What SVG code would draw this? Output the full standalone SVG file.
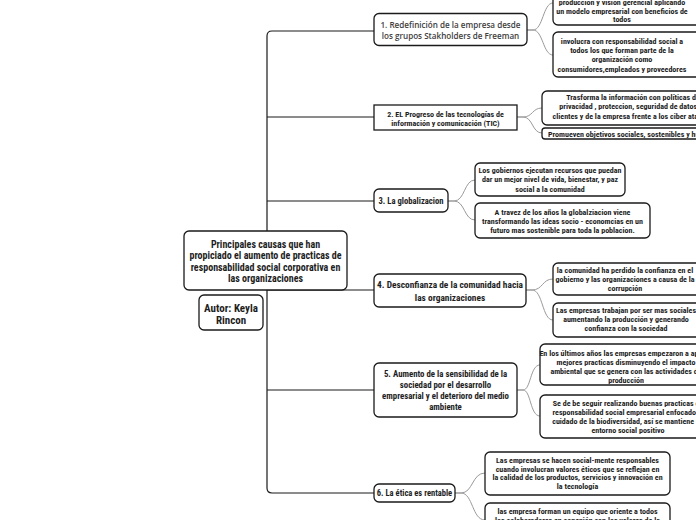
<svg xmlns="http://www.w3.org/2000/svg" width="696" height="520" viewBox="0 0 696 520">
<style>
.bg{fill:#ffffff}
.box{fill:#ffffff;stroke:#1a1a1a;stroke-width:1.3}
.trunk{fill:none;stroke:#1a1a1a;stroke-width:1.2}
.sub{fill:none;stroke:#9a9a9a;stroke-width:1}
.n{font-family:"Liberation Sans Narrow","Arial Narrow","Roboto Condensed","Liberation Sans",sans-serif;font-weight:bold;fill:#1e1e1e;text-anchor:middle}
.s8{font-size:8px}
.s10{font-size:10px}
.o{font-family:"Open Sans","DejaVu Sans",sans-serif;font-weight:600;font-size:8.1px;fill:#404040;text-anchor:middle}
</style>
<rect class="bg" x="0" y="0" width="696" height="520"/>
<g id="connectors">
<path class="trunk" d="M374 31 H272 Q267 31 267 36 V488 Q267 493 272 493 H374"/>
<path class="trunk" d="M267 117 H374"/>
<path class="trunk" d="M267 201 H374"/>
<path class="trunk" d="M267 290 H374"/>
<path class="trunk" d="M267 390 H374"/>
<path class="sub" d="M527 30 h6 C543 30 543 3 553 3"/>
<path class="sub" d="M527 30 h6 C543 30 543 55 553 55"/>
<path class="sub" d="M517 117 h6 C533 117 532 108 542 108"/>
<path class="sub" d="M517 117 h6 C533 117 532 133 542 133"/>
<path class="sub" d="M448 201 h6 C465 201 464 180 475 180"/>
<path class="sub" d="M448 201 h6 C465 201 464 220 475 220"/>
<path class="sub" d="M526 290 h6 C543 290 542 279 553 279"/>
<path class="sub" d="M526 290 h6 C543 290 542 320 553 320"/>
<path class="sub" d="M517 390 h6 C531 390 530 365 540 365"/>
<path class="sub" d="M517 390 h6 C531 390 530 416 540 416"/>
<path class="sub" d="M455 493 h6 C473 493 472 473 485 473"/>
<path class="sub" d="M455 493 h6 C473 493 472 520 485 520"/>
</g>
<g id="root">
<rect class="box" x="184" y="231" width="163" height="59" rx="5"/>
<text class="n s10" x="265.5" y="247.5">Principales causas  que han</text>
<text class="n s10" x="265.5" y="259">propiciado el aumento de practicas de</text>
<text class="n s10" x="265.5" y="270.5">responsabilidad social corporativa en</text>
<text class="n s10" x="265.5" y="282">las organizaciones</text>
</g>
<g id="autor">
<rect class="box" x="199" y="295" width="64" height="35" rx="5"/>
<text class="n" style="font-size:11px" x="231" y="312">Autor: Keyla</text>
<text class="n" style="font-size:11px" x="231" y="323.5">Rincon</text>
</g>
<g id="n1">
<rect class="box" x="374" y="13.5" width="153" height="32" rx="5"/>
<text class="o" x="450.5" y="28">1. Redefinición de la empresa desde</text>
<text class="o" x="450.5" y="38.5">los grupos Stakholders de Freeman</text>
</g>
<g id="n1a">
<rect class="box" x="553" y="-20" width="150" height="45" rx="5"/>
<text class="n s8" x="622" y="4.5">producción y visión gerencial aplicando</text>
<text class="n s8" x="622" y="13.5">un modelo empresarial con beneficios de</text>
<text class="n s8" x="622" y="22">todos</text>
</g>
<g id="n1b">
<rect class="box" x="553" y="32" width="150" height="45" rx="5"/>
<text class="n s8" x="622" y="44">involucra con responsabilidad social a</text>
<text class="n s8" x="622" y="53">todos los que forman parte de la</text>
<text class="n s8" x="622" y="62">organización como</text>
<text class="n s8" x="622" y="71.5">consumidores,empleados y proveedores</text>
</g>
<g id="n2">
<rect class="box" x="374" y="105" width="143" height="25"/>
<text class="n s8" x="445.5" y="117">2. EL Progreso de  las tecnologías de</text>
<text class="n s8" x="445.5" y="126">información y comunicación (TIC)</text>
</g>
<g id="n2a">
<rect class="box" x="542" y="91" width="170" height="34" rx="5"/>
<text class="n s8" x="633" y="100">Trasforma  la información  con  políticas  de</text>
<text class="n s8" x="633" y="109">privacidad , proteccion, seguridad de datos de</text>
<text class="n s8" x="633" y="118.5">clientes y de la empresa frente a los ciber ataques</text>
</g>
<g id="n2b">
<rect class="box" x="542" y="128" width="180" height="11" rx="3"/>
<text class="n s8" style="text-anchor:start" x="548" y="136.5">Promueven objetivos sociales, sostenibles y humanos</text>
</g>
<g id="n3">
<rect class="box" x="374" y="189" width="74" height="23" rx="5"/>
<text class="n" style="font-size:8.6px" x="411" y="204">3. La globalizacion</text>
</g>
<g id="n3a">
<rect class="box" x="475" y="163" width="150" height="33" rx="5"/>
<text class="n s8" x="550" y="173">Los gobiernos  ejecutan recursos que  puedan</text>
<text class="n s8" x="550" y="182">dar un  mejor nivel de vida, bienestar, y paz</text>
<text class="n s8" x="550" y="192">social a la comunidad</text>
</g>
<g id="n3b">
<rect class="box" x="475" y="203" width="175" height="35" rx="5"/>
<text class="n s8" x="562.5" y="215">A travez de los años la globalziacion viene</text>
<text class="n s8" x="562.5" y="224">transformando las ideas socio - economcias en un</text>
<text class="n s8" x="562.5" y="233">futuro mas sostenible para toda la poblacion.</text>
</g>
<g id="n4">
<rect class="box" x="374" y="274" width="152" height="33" rx="5"/>
<text class="n" style="font-size:9.4px" x="450" y="288">4. Desconfianza de la comunidad hacia</text>
<text class="n" style="font-size:9.4px" x="450" y="300.5">las organizaciones</text>
</g>
<g id="n4a">
<rect class="box" x="553" y="263" width="150" height="32" rx="5"/>
<text class="n s8" x="625" y="272.5">la comunidad ha perdido la confianza en el</text>
<text class="n s8" x="625" y="281.5">gobierno y las organizaciones a causa de la</text>
<text class="n s8" x="625" y="291">corrupción</text>
</g>
<g id="n4b">
<rect class="box" x="553" y="303" width="150" height="34" rx="5"/>
<text class="n s8" x="626" y="313">Las empresas trabajan por ser mas sociales</text>
<text class="n s8" x="626" y="322">aumentando la producción y generando</text>
<text class="n s8" x="626" y="331">confianza con la sociedad</text>
</g>
<g id="n5">
<rect class="box" x="374" y="363" width="143" height="54" rx="5"/>
<text class="n" style="font-size:8.8px" x="445.5" y="377">5. Aumento de la sensibilidad de la</text>
<text class="n" style="font-size:8.8px" x="445.5" y="388">sociedad por el desarrollo</text>
<text class="n" style="font-size:8.8px" x="445.5" y="399">empresarial y el deterioro del medio</text>
<text class="n" style="font-size:8.8px" x="445.5" y="410">ambiente</text>
</g>
<g id="n5a">
<rect class="box" x="540" y="344" width="170" height="41" rx="5"/>
<text class="n s8" x="626" y="355.5">En los últimos años las empresas empezaron  a aplicar</text>
<text class="n s8" x="626" y="364.5">mejores practicas  disminuyendo  el impacto</text>
<text class="n s8" x="626" y="373.5">ambiental que se genera con las actividades de</text>
<text class="n s8" x="626" y="382.5">producción</text>
</g>
<g id="n5b">
<rect class="box" x="540" y="395" width="170" height="43" rx="5"/>
<text class="n s8" x="628" y="406">Se de be seguir realizando buenas practicas de</text>
<text class="n s8" x="628" y="415">responsabilidad social empresarial enfocado al</text>
<text class="n s8" x="628" y="424">cuidado de la biodiversidad, así se mantiene un</text>
<text class="n s8" x="628" y="433">entorno social positivo</text>
</g>
<g id="n6">
<rect class="box" x="374" y="484" width="81" height="18" rx="5"/>
<text class="n" style="font-size:8.5px" x="414.5" y="496">6. La ética es rentable</text>
</g>
<g id="n6a">
<rect class="box" x="485" y="452" width="185" height="43" rx="5"/>
<text class="n s8" x="577.5" y="463">Las empresas se hacen social-mente responsables</text>
<text class="n s8" x="577.5" y="471.5">cuando involucran valores éticos  que se reflejan en</text>
<text class="n s8" x="577.5" y="480">la calidad de los productos, servicios y innovación en</text>
<text class="n s8" x="577.5" y="489">la tecnología</text>
</g>
<g id="n6b">
<rect class="box" x="485" y="503" width="185" height="40" rx="5"/>
<text class="n s8" x="577.5" y="514">las empresa forman un equipo que oriente  a todos</text>
<text class="n s8" x="577.5" y="523">los colaboradores en conexión con los valores de la</text>
</g>
</svg>
